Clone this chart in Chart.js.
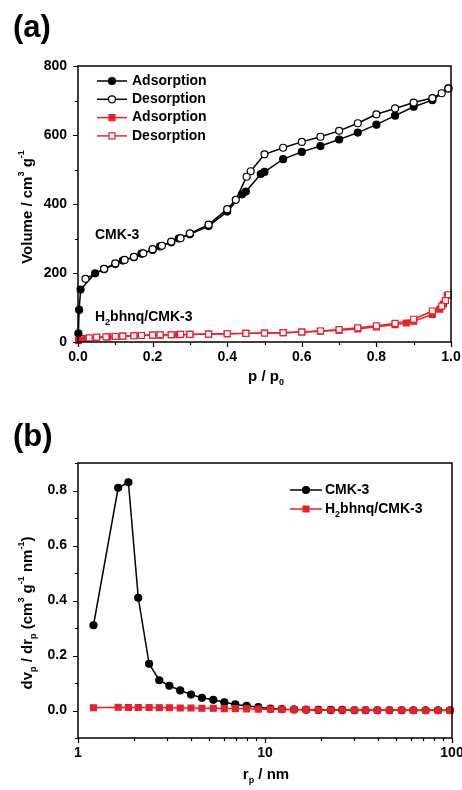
<!DOCTYPE html>
<html>
<head>
<meta charset="utf-8">
<script src="https://cdn.jsdelivr.net/npm/chart.js@4.4.0/dist/chart.umd.min.js"></script>
<style>
  html, body { margin: 0; padding: 0; background: #fff; }
  canvas { position: absolute; left: 0; }
  #chartA { top: 0; }
  #chartB { top: 395px; }
</style>
</head>
<body>
<canvas id="chartA" width="462" height="395"></canvas>
<canvas id="chartB" width="462" height="395"></canvas>
<script>
const FONT = "'Liberation Sans', Arial, sans-serif";
const BLACK = '#000000';
const RED = '#e8202a';

// --- (a) N2 isotherms ---
const pressureTicks = [0, 0.2, 0.4, 0.6, 0.8, 1.0];
const pressureMinor = [0.1, 0.3, 0.5, 0.7, 0.9];
const volumeTicks = [0, 200, 400, 600, 800];
const volumeMinor = [100, 300, 500, 700];

const cmkAdsP = [0.001, 0.003, 0.007, 0.046, 0.07, 0.1, 0.12, 0.15, 0.17, 0.2, 0.22, 0.25, 0.27, 0.3, 0.35, 0.4, 0.44, 0.45, 0.49, 0.5, 0.55, 0.6, 0.65, 0.7, 0.75, 0.8, 0.85, 0.9, 0.95, 0.993];
const cmkAdsV = [25, 93, 152, 199, 211, 226, 236, 246, 256, 267, 277, 289, 300, 312, 336, 378, 428, 436, 487, 493, 530, 551, 568, 587, 607, 630, 656, 682, 701, 735];
const cmkDesP = [0.993, 0.975, 0.95, 0.9, 0.85, 0.8, 0.75, 0.7, 0.65, 0.6, 0.55, 0.5, 0.463, 0.452, 0.423, 0.4, 0.35, 0.3, 0.275, 0.25, 0.225, 0.2, 0.175, 0.15, 0.125, 0.1, 0.07, 0.02];
const cmkDesV = [735, 721, 707, 694, 677, 660, 634, 612, 595, 580, 563, 544, 495, 479, 412, 385, 340, 315, 301, 291, 279, 269, 257, 247, 238, 228, 212, 183];

const h2AdsP = [0.001, 0.02, 0.05, 0.08, 0.1, 0.12, 0.15, 0.17, 0.2, 0.22, 0.25, 0.27, 0.3, 0.35, 0.4, 0.45, 0.5, 0.55, 0.6, 0.65, 0.7, 0.75, 0.8, 0.85, 0.88, 0.9, 0.95, 0.97, 0.98, 0.99];
const h2AdsV = [4, 10, 13, 15, 16, 17, 18, 19, 20, 20, 21, 21, 22, 23, 24, 25, 26, 27, 29, 31, 34, 38, 44, 50, 55, 60, 80, 95, 110, 135];
const h2DesP = [0.993, 0.985, 0.975, 0.95, 0.9, 0.85, 0.8, 0.75, 0.7, 0.65, 0.6, 0.55, 0.5, 0.45, 0.4, 0.35, 0.3, 0.275, 0.25, 0.22, 0.2, 0.17, 0.15, 0.12, 0.1, 0.075, 0.05, 0.03];
const h2DesV = [137, 120, 104, 90, 66, 54, 47, 41, 36, 32, 29, 27, 26, 25, 24, 23, 22, 22, 21, 21, 20, 19, 18, 17, 16, 15, 14, 12];

// --- (b) pore size distribution ---
const radiusTicks = [1, 10, 100];
const radiusMinor = [2, 3, 4, 5, 6, 7, 8, 9, 20, 30, 40, 50, 60, 70, 80, 90];
const dvTicks = [0, 0.2, 0.4, 0.6, 0.8];
const dvMinor = [-0.1, 0.1, 0.3, 0.5, 0.7, 0.9];

const poreRadius = [1.21, 1.64, 1.86, 2.10, 2.40, 2.72, 3.08, 3.52, 4.02, 4.60, 5.29, 6.06, 6.94, 7.98, 9.21, 10.7, 12.3, 14.3, 16.6, 19.3, 22.5, 25.9, 30.1, 34.5, 39.9, 46.3, 53.8, 62.1, 72.3, 84.2, 97.5];
const cmkDv = [0.31, 0.81, 0.83, 0.41, 0.17, 0.11, 0.09, 0.073, 0.058, 0.046, 0.039, 0.030, 0.022, 0.017, 0.012, 0.007, 0.005, 0.004, 0.003, 0.002, 0.002, 0.002, 0.001, 0.001, 0.001, 0.001, 0.001, 0.001, 0.001, 0.001, 0.001];
const h2Dv = [0.010, 0.012, 0.011, 0.011, 0.011, 0.010, 0.010, 0.009, 0.009, 0.008, 0.008, 0.007, 0.007, 0.006, 0.005, 0.005, 0.004, 0.003, 0.003, 0.002, 0.002, 0.002, 0.001, 0.001, 0.001, 0.001, 0.001, 0, 0, 0, 0];

function toPoints(xs, ys) {
  return xs.map((x, i) => ({ x: x, y: ys[i] }));
}

// text with _{sub} and ^{sup}
function parseRich(str) {
  const parts = [];
  const re = /([_^])\{([^}]*)\}/g;
  let last = 0, m;
  while ((m = re.exec(str))) {
    if (m.index > last) parts.push({ t: str.slice(last, m.index), k: '' });
    parts.push({ t: m[2], k: m[1] === '_' ? 'sub' : 'sup' });
    last = re.lastIndex;
  }
  if (last < str.length) parts.push({ t: str.slice(last), k: '' });
  return parts;
}

function drawRich(ctx, str, x, y, size, align) {
  const parts = parseRich(str);
  const small = Math.round(size * 0.62);
  const fontOf = k => 'bold ' + (k ? small : size) + 'px ' + FONT;
  let w = 0;
  parts.forEach(p => { ctx.font = fontOf(p.k); p.w = ctx.measureText(p.t).width; w += p.w; });
  let cx = align === 'center' ? x - w / 2 : x;
  ctx.textBaseline = 'middle';
  ctx.textAlign = 'left';
  ctx.fillStyle = BLACK;
  parts.forEach(p => {
    ctx.font = fontOf(p.k);
    const dy = p.k === 'sub' ? size * 0.38 : (p.k === 'sup' ? -size * 0.42 : 0);
    ctx.fillText(p.t, cx, y + dy);
    cx += p.w;
  });
}

function drawMarker(ctx, ds, x, y) {
  const r = ds.pointRadius;
  ctx.fillStyle = ds.pointBackgroundColor;
  ctx.strokeStyle = ds.pointBorderColor;
  ctx.lineWidth = ds.pointBorderWidth;
  ctx.beginPath();
  if (ds.pointStyle === 'rect') {
    const s = Math.SQRT1_2 * r;
    ctx.rect(x - s, y - s, 2 * s, 2 * s);
  } else {
    ctx.arc(x, y, r, 0, Math.PI * 2);
  }
  ctx.fill();
  ctx.stroke();
}

// frame, outward ticks, legend and labels
const decorPlugin = {
  id: 'decor',
  afterDraw(chart, args, opts) {
    const { ctx, chartArea: a, scales } = chart;
    ctx.save();
    ctx.strokeStyle = BLACK;
    ctx.lineWidth = 1.5;
    ctx.strokeRect(a.left, a.top, a.right - a.left, a.bottom - a.top);

    ctx.lineWidth = 1.2;
    ctx.beginPath();
    const tickX = (vals, len) => vals.forEach(v => {
      const px = Math.round(scales.x.getPixelForValue(v)) + 0.5;
      ctx.moveTo(px, a.bottom); ctx.lineTo(px, a.bottom + len);
    });
    const tickY = (vals, len) => vals.forEach(v => {
      const py = Math.round(scales.y.getPixelForValue(v)) + 0.5;
      ctx.moveTo(a.left, py); ctx.lineTo(a.left - len, py);
    });
    tickX(opts.xMajor, 5); tickX(opts.xMinor, 3);
    tickY(opts.yMajor, 5); tickY(opts.yMinor, 3);
    ctx.stroke();

    // legend
    const lg = opts.legend;
    chart.data.datasets.forEach((ds, i) => {
      const y = lg.y0 + i * lg.dy;
      ctx.strokeStyle = ds.borderColor;
      ctx.lineWidth = ds.borderWidth;
      ctx.beginPath();
      ctx.moveTo(lg.x0, y); ctx.lineTo(lg.x1, y);
      ctx.stroke();
      drawMarker(ctx, ds, (lg.x0 + lg.x1) / 2, y);
      drawRich(ctx, ds.label, lg.textX, y, 14, 'left');
    });

    opts.texts.forEach(t => drawRich(ctx, t.text, t.x, t.y, t.size, t.align));

    const yt = opts.yTitle;
    ctx.translate(yt.x, yt.y);
    ctx.rotate(-Math.PI / 2);
    drawRich(ctx, yt.text, 0, 0, 15, 'center');
    ctx.restore();
  }
};

function axisFont() {
  return { family: FONT, size: 14, weight: 'bold' };
}

function lineSet(label, xs, ys, color, style, filled, order, radius) {
  return {
    label: label,
    data: toPoints(xs, ys),
    borderColor: color,
    backgroundColor: color,
    borderWidth: 1.5,
    pointStyle: style,
    pointRadius: radius,
    pointBorderWidth: 1.2,
    pointBorderColor: color,
    pointBackgroundColor: filled ? color : '#ffffff',
    tension: 0,
    clip: false,
    order: order
  };
}

// --- chart (a) ---
new Chart(document.getElementById('chartA'), {
  type: 'line',
  data: {
    datasets: [
      lineSet('Adsorption', cmkAdsP, cmkAdsV, BLACK, 'circle', true, 1, 3.5),
      lineSet('Desorption', cmkDesP, cmkDesV, BLACK, 'circle', false, 0, 3.5),
      lineSet('Adsorption', h2AdsP, h2AdsV, RED, 'rect', true, 3, 4.2),
      lineSet('Desorption', h2DesP, h2DesV, RED, 'rect', false, 2, 4.2)
    ]
  },
  options: {
    responsive: false,
    animation: false,
    events: [],
    layout: { padding: { left: 0, right: 11, top: 66, bottom: 0 } },
    scales: {
      x: {
        type: 'linear', min: 0, max: 1,
        afterBuildTicks: s => { s.ticks = pressureTicks.map(v => ({ value: v })); },
        afterFit: s => { s.height = 53; s.paddingLeft = 0; s.paddingRight = 0; },
        grid: { display: false, drawTicks: false },
        border: { display: false },
        ticks: { padding: 7, color: BLACK, font: axisFont(), maxRotation: 0, autoSkip: false, callback: v => v.toFixed(1) }
      },
      y: {
        type: 'linear', min: 0, max: 800,
        afterBuildTicks: s => { s.ticks = volumeTicks.map(v => ({ value: v })); },
        afterFit: s => { s.width = 78; s.paddingTop = 0; s.paddingBottom = 0; },
        grid: { display: false, drawTicks: false },
        border: { display: false },
        ticks: { padding: 11, color: BLACK, font: axisFont(), autoSkip: false, callback: v => String(v) }
      }
    },
    plugins: {
      legend: { display: false },
      tooltip: { enabled: false },
      decor: {
        xMajor: pressureTicks, xMinor: pressureMinor,
        yMajor: volumeTicks, yMinor: volumeMinor,
        legend: { x0: 97, x1: 127, textX: 132, y0: 81, dy: 18.3 },
        texts: [
          { text: '(a)', x: 13, y: 28, size: 31, align: 'left' },
          { text: 'CMK-3', x: 95, y: 235, size: 14, align: 'left' },
          { text: 'H_{2}bhnq/CMK-3', x: 95, y: 317, size: 14, align: 'left' },
          { text: 'p / p_{0}', x: 266, y: 377, size: 15, align: 'center' }
        ],
        yTitle: { text: 'Volume / cm^{3} g^{-1}', x: 28, y: 207 }
      }
    }
  },
  plugins: [decorPlugin]
});

// --- chart (b) ---
new Chart(document.getElementById('chartB'), {
  type: 'line',
  data: {
    datasets: [
      lineSet('CMK-3', poreRadius, cmkDv, BLACK, 'circle', true, 1, 3.5),
      lineSet('H_{2}bhnq/CMK-3', poreRadius, h2Dv, RED, 'rect', true, 0, 4.2)
    ]
  },
  options: {
    responsive: false,
    animation: false,
    events: [],
    layout: { padding: { left: 0, right: 10, top: 68, bottom: 0 } },
    scales: {
      x: {
        type: 'logarithmic', min: 1, max: 100,
        afterBuildTicks: s => { s.ticks = radiusTicks.map(v => ({ value: v })); },
        afterFit: s => { s.height = 52; s.paddingLeft = 0; s.paddingRight = 0; },
        grid: { display: false, drawTicks: false },
        border: { display: false },
        ticks: { padding: 7, color: BLACK, font: axisFont(), maxRotation: 0, autoSkip: false, callback: v => String(v) }
      },
      y: {
        type: 'linear', min: -0.1, max: 0.9,
        afterBuildTicks: s => { s.ticks = dvTicks.map(v => ({ value: v })); },
        afterFit: s => { s.width = 78; s.paddingTop = 0; s.paddingBottom = 0; },
        grid: { display: false, drawTicks: false },
        border: { display: false },
        ticks: { padding: 11, color: BLACK, font: axisFont(), autoSkip: false, callback: v => v.toFixed(1) }
      }
    },
    plugins: {
      legend: { display: false },
      tooltip: { enabled: false },
      decor: {
        xMajor: radiusTicks, xMinor: radiusMinor,
        yMajor: dvTicks, yMinor: dvMinor,
        legend: { x0: 290, x1: 322, textX: 325, y0: 95, dy: 19 },
        texts: [
          { text: '(b)', x: 13, y: 42, size: 31, align: 'left' },
          { text: 'r_{p} / nm', x: 266, y: 380, size: 15, align: 'center' }
        ],
        yTitle: { text: 'dv_{p} / dr_{p} (cm^{3} g^{-1} nm^{-1})', x: 28, y: 218 }
      }
    }
  },
  plugins: [decorPlugin]
});
</script>
</body>
</html>
